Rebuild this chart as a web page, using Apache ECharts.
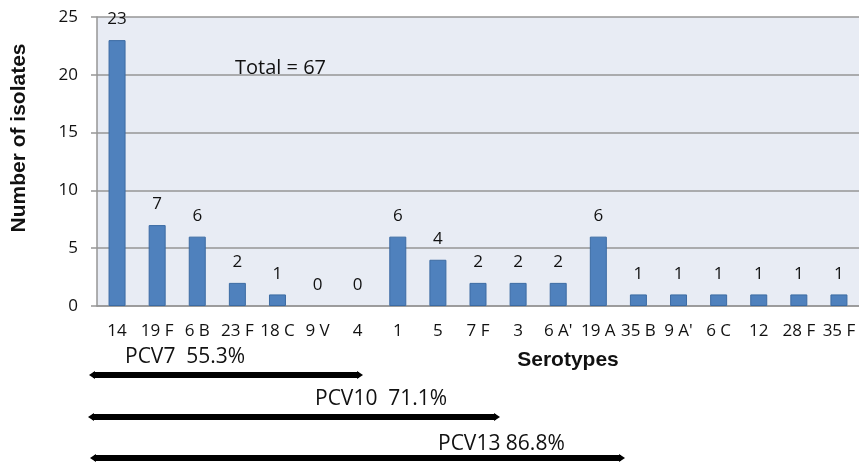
<!DOCTYPE html>
<html>
<head>
<meta charset="utf-8">
<script src="https://cdn.jsdelivr.net/npm/echarts@6/dist/echarts.min.js"></script>
<style>
  html, body { margin: 0; padding: 0; background: #fff; }
  #chart { width: 859px; height: 465px; }
</style>
</head>
<body>
<div id="chart"></div>
<script>
const serotypes = ['14', '19 F', '6 B', '23 F', '18 C', '9 V', '4', '1', '5', '7 F', '3', "6 A'", '19 A', '35 B', "9 A'", '6 C', '12', '28 F', '35 F'];
const isolates = [23, 7, 6, 2, 1, 0, 0, 6, 4, 2, 2, 2, 6, 1, 1, 1, 1, 1, 1];
const yTicks = { min: 0, max: 25, step: 5 };
const totalLabel = 'Total = 67';

// vaccine coverage brackets under the axis
const vaccines = ['PCV7  55.3%', 'PCV10  71.1%', 'PCV13 86.8%'];

const FONT = "'Open Sans', 'Liberation Sans', sans-serif";
const BOLD = "bold 21px 'Liberation Sans', Arial, sans-serif";
const chart = echarts.init(document.getElementById('chart'), null, { renderer: 'canvas' });

function arrow(x0, x1, y) {
  return {
    type: 'group',
    children: [
      { type: 'line', shape: { x1: x0 + 3, y1: y, x2: x1 - 3, y2: y }, style: { stroke: '#000', lineWidth: 6 } },
      { type: 'polygon', shape: { points: [[x0 - 1, y], [x0 + 5, y - 4], [x0 + 5, y + 4]] }, style: { fill: '#000' } },
      { type: 'polygon', shape: { points: [[x1 + 1, y], [x1 - 5, y - 4], [x1 - 5, y + 4]] }, style: { fill: '#000' } }
    ]
  };
}

function label(text, x, y, font, align, rot) {
  return {
    type: 'text', x: x, y: y, rotation: rot || 0,
    style: { text: text, font: font || ('20px ' + FONT), fill: '#111', align: align || 'left', verticalAlign: 'middle' }
  };
}

chart.setOption({
  animation: false,
  grid: {
    left: 97, right: 0, top: 17, bottom: 159,
    show: true, backgroundColor: '#E8ECF4', borderWidth: 0
  },
  xAxis: {
    type: 'category',
    data: serotypes,
    axisLine: { lineStyle: { color: '#969696', width: 1.5 } },
    axisTick: { show: false },
    axisLabel: { interval: 0, margin: 17, fontFamily: FONT, fontSize: 17, color: '#111' }
  },
  yAxis: {
    type: 'value',
    min: yTicks.min, max: yTicks.max, interval: yTicks.step,
    axisLine: { show: true, lineStyle: { color: '#969696', width: 1.5 } },
    axisTick: { show: true, length: 6, lineStyle: { color: '#969696', width: 1.5 } },
    splitLine: { lineStyle: { color: '#969696', width: 1.5 } },
    axisLabel: { margin: 19, fontFamily: FONT, fontSize: 17, color: '#111' }
  },
  series: [{
    type: 'bar',
    data: isolates.map(v => v === 0 ? { value: v, itemStyle: { borderWidth: 0, color: 'transparent' } } : v),
    barWidth: 17,
    itemStyle: { color: '#4F81BD', borderColor: '#3C6BA3', borderWidth: 1 },
    label: { show: true, position: 'top', distance: 12, fontFamily: FONT, fontSize: 17, color: '#111' }
  }],
  graphic: [
    label('Number of isolates', 19, 138, BOLD, 'center', Math.PI / 2),
    label('Serotypes', 568, 360, BOLD, 'center'),
    label(totalLabel, 235, 68),
    label(vaccines[0], 125, 357, '21px ' + FONT),
    arrow(90, 362, 375),
    label(vaccines[1], 315, 399, '21px ' + FONT),
    arrow(89, 499, 417),
    label(vaccines[2], 438, 444, '21px ' + FONT),
    arrow(91, 624, 458)
  ]
});
</script>
</body>
</html>
